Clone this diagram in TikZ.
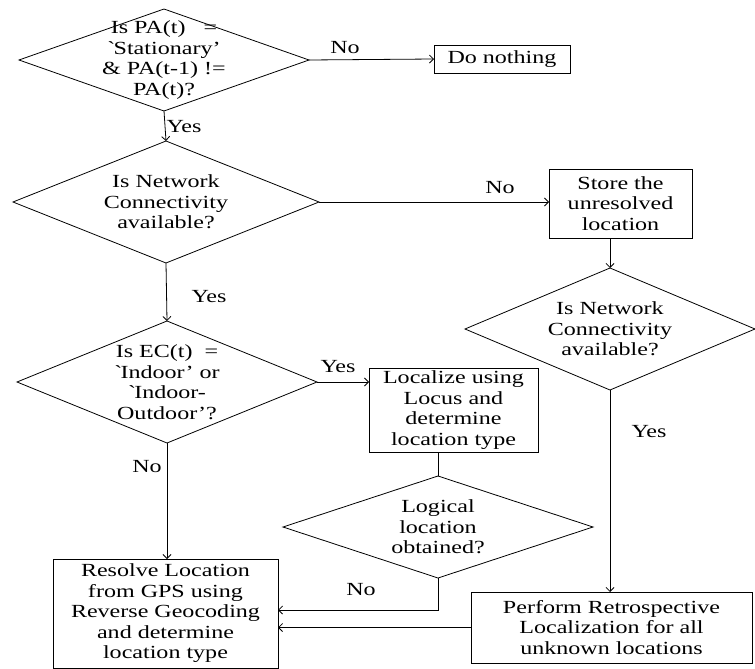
\documentclass[tikz,border=0pt]{standalone}
\usepackage{fontspec}
\setmainfont{Liberation Serif}[FakeStretch=1.3]
\usetikzlibrary{shapes.geometric,arrows.meta}
\begin{document}
\begin{tikzpicture}[x=1pt,y=-1pt,
  line width=0.8pt,
  every node/.style={inner sep=0pt, outer sep=0pt},
  txt/.style={align=center, font=\fontsize{18.5}{20.5}\selectfont},
  lbl/.style={font=\fontsize{18.5}{20.5}\selectfont},
  boxnode/.style={draw, rectangle, align=center, font=\fontsize{18.5}{20.5}\selectfont},
  arr/.style={-{Straight Barb[length=4pt,width=8pt]}}
]
\useasboundingbox (0,0) rectangle (755,669);

% decisions
\node[draw, diamond, minimum width=290, minimum height=102] (d1) at (164,60) {};
\node[txt] (d1t) at (d1) {Is PA(t) \ \ =\\\textasciigrave Stationary'\\\& PA(t-1) !=\\PA(t)?};

\node[draw, diamond, minimum width=306, minimum height=122] (d2) at (166,202) {};
\node[txt] (d2t) at (d2) {Is Network\\Connectivity\\available?};

\node[draw, diamond, minimum width=290, minimum height=122] (d3) at (610,329) {};
\node[txt] (d3t) at (d3) {Is Network\\Connectivity\\available?};

\node[draw, diamond, minimum width=300, minimum height=122] (d4) at (167,382) {};
\node[txt] (d4t) at (d4) {Is EC(t) \ =\\\textasciigrave Indoor' or\\\textasciigrave Indoor-\\Outdoor'?};

\node[draw, diamond, minimum width=310, minimum height=102] (d5) at (438,527) {};
\node[txt] (d5t) at (d5) {Logical\\location\\obtained?};

% actions
\node[boxnode, minimum width=136, minimum height=28] (nothing) at (502,59) {Do nothing};
\node[boxnode, minimum width=143, minimum height=69] (store) at (620.5,203.5) {Store the\\unresolved\\location};
\node[boxnode, minimum width=169, minimum height=84] (locus) at (453.5,410) {Localize using\\Locus and\\determine\\location type};
\node[boxnode, minimum width=225, minimum height=109] (resolve) at (165.5,613.5) {Resolve Location\\from GPS using\\Reverse Geocoding\\and determine\\location type};
\node[boxnode, minimum width=281, minimum height=71] (perform) at (611.5,627.5) {Perform Retrospective\\Localization for all\\unknown locations};

% connectors
\draw[arr] (d1.east) -- (nothing.west);
\node[lbl] (l1) at (345,48) {No};
\draw[arr] (d1.south) -- (d2.north);
\node[lbl] (l2) at (184,127) {Yes};
\draw[arr] (d2.east) -- (store.west |- d2.east);
\node[lbl] (l3) at (500,188) {No};
\draw[arr] (d3.north |- store.south) -- (d3.north);
\draw[arr] (d2.south) -- (d4.north);
\node[lbl] (l4) at (209,297) {Yes};
\draw[arr] (d4.east) -- (locus.west |- d4.east);
\node[lbl] (l5) at (338,367) {Yes};
\draw[arr] (d4.south) -- (resolve.north -| d4.south);
\node[lbl] (l6) at (147,467) {No};
\draw (d5.north |- locus.south) -- (d5.north);
\coordinate (c5) at (438,610);
\draw[arr] (d5.south) -- (c5) -- (resolve.east |- c5);
\node[lbl] (l7) at (361,590) {No};
\draw[arr] (d3.south) -- (perform.north -| d3.south);
\node[lbl] (l8) at (649,432) {Yes};
\draw[arr] (perform.west) -- (resolve.east |- perform.west);
\end{tikzpicture}
\end{document}
